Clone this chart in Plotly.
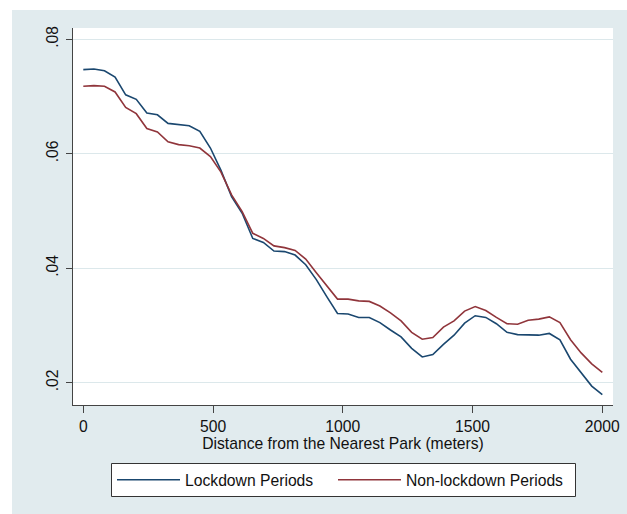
import plotly.graph_objects as go

# distance grid (meters)
distance = [0.0, 40.8, 81.6, 122.4, 163.3, 204.1, 244.9, 285.7, 326.5, 367.3,
            408.2, 449.0, 489.8, 530.6, 571.4, 612.2, 653.1, 693.9, 734.7, 775.5,
            816.3, 857.1, 898.0, 938.8, 979.6, 1020.4, 1061.2, 1102.0, 1142.9, 1183.7,
            1224.5, 1265.3, 1306.1, 1346.9, 1387.8, 1428.6, 1469.4, 1510.2, 1551.0, 1591.8,
            1632.7, 1673.5, 1714.3, 1755.1, 1795.9, 1836.7, 1877.6, 1918.4, 1959.2, 2000.0]

lockdown = [0.0747, 0.0748, 0.0745, 0.0734, 0.0703, 0.0695, 0.0671, 0.0668, 0.0653, 0.0651,
            0.0649, 0.0639, 0.0610, 0.0571, 0.0525, 0.0496, 0.0452, 0.0445, 0.0430, 0.0429,
            0.0423, 0.0406, 0.0380, 0.0350, 0.0321, 0.0320, 0.0314, 0.0314, 0.0305, 0.0292,
            0.0280, 0.0260, 0.0245, 0.0249, 0.0267, 0.0283, 0.0304, 0.0317, 0.0314, 0.0303,
            0.0288, 0.0284, 0.0284, 0.0283, 0.0286, 0.0275, 0.0241, 0.0217, 0.0194, 0.0179]

non_lockdown = [0.0718, 0.0719, 0.0718, 0.0708, 0.0681, 0.0670, 0.0644, 0.0638, 0.0621, 0.0616,
                0.0614, 0.0610, 0.0595, 0.0568, 0.0528, 0.0499, 0.0461, 0.0452, 0.0439, 0.0436,
                0.0431, 0.0416, 0.0392, 0.0368, 0.0346, 0.0346, 0.0343, 0.0342, 0.0334, 0.0322,
                0.0308, 0.0288, 0.0276, 0.0279, 0.0297, 0.0308, 0.0325, 0.0333, 0.0326, 0.0314,
                0.0303, 0.0302, 0.0309, 0.0311, 0.0315, 0.0305, 0.0275, 0.0252, 0.0233, 0.0218]

series_names = ["Lockdown Periods", "Non-lockdown Periods"]
y_tickvals = [0.02, 0.04, 0.06, 0.08]
y_ticktext = [".02", ".04", ".06", ".08"]
x_tickvals = [0, 500, 1000, 1500, 2000]
x_ticktext = ["0", "500", "1000", "1500", "2000"]
x_title = "Distance from the Nearest Park (meters)"

BG = "#E1EBEE"
GRID = "#DCE8EB"
FONT = "Liberation Sans, Arial, sans-serif"
FS = 15.7

W, H = 627, 514
L, R, T, B = 73, 14, 28, 109
PW, PH = W - L - R, H - T - B

def px_x(p):
    return (p - L) / PW

def px_y(p):
    return (H - B - p) / PH

fig = go.Figure()
fig.add_trace(go.Scatter(x=distance, y=lockdown, mode="lines", name=series_names[0],
                         line=dict(color="#1A476F", width=1.6), legend="legend"))
fig.add_trace(go.Scatter(x=distance, y=non_lockdown, mode="lines", name=series_names[1],
                         line=dict(color="#90353B", width=1.6), legend="legend2"))

shapes = [
    # white outer strips (top and left)
    dict(type="rect", xref="paper", yref="paper", x0=px_x(-5), x1=px_x(W + 5),
         y0=px_y(10), y1=px_y(-5), fillcolor="white", line=dict(width=0), layer="below"),
    dict(type="rect", xref="paper", yref="paper", x0=px_x(-5), x1=px_x(12),
         y0=px_y(H + 5), y1=px_y(-5), fillcolor="white", line=dict(width=0), layer="below"),
    # legend frame
    dict(type="rect", xref="paper", yref="paper", x0=px_x(111.5), x1=px_x(575.5),
         y0=px_y(496.5), y1=px_y(463.5), fillcolor="white",
         line=dict(width=1, color="#333333"), layer="above"),
]

leg_common = dict(orientation="h", xanchor="left", y=px_y(463), yanchor="top",
                  bgcolor="rgba(0,0,0,0)", borderwidth=0,
                  font=dict(family=FONT, size=FS, color="#111111"),
                  itemwidth=63, tracegroupgap=0)

fig.update_layout(
    width=W, height=H,
    margin=dict(l=L, r=R, t=T, b=B, pad=0),
    paper_bgcolor=BG, plot_bgcolor="white",
    font=dict(family=FONT, size=FS, color="#111111"),
    shapes=shapes,
    showlegend=True,
    legend=dict(x=px_x(112), **leg_common),
    legend2=dict(x=px_x(333), **leg_common),
    xaxis=dict(range=[-39.7, 2041.2], tickvals=x_tickvals, ticktext=x_ticktext,
               showgrid=False, zeroline=False, showline=True, linecolor="#444444", linewidth=1,
               ticks="outside", ticklen=7, tickwidth=1, tickcolor="#444444",
               title=dict(text=x_title, standoff=4, font=dict(size=FS)),
               mirror=False, automargin=False),
    yaxis=dict(range=[0.0161, 0.08197], tickvals=y_tickvals, ticktext=y_ticktext,
               tickangle=-90, showgrid=True, gridcolor=GRID, gridwidth=1, zeroline=False,
               showline=True, linecolor="#444444", linewidth=1,
               ticks="outside", ticklen=6, tickwidth=1, tickcolor="#444444",
               ticklabelstandoff=2,
               mirror=False, automargin=False),
)

fig.write_html("out.html", config={"displayModeBar": False},
               post_script="document.body.style.margin='0';document.body.style.overflow='hidden';")
